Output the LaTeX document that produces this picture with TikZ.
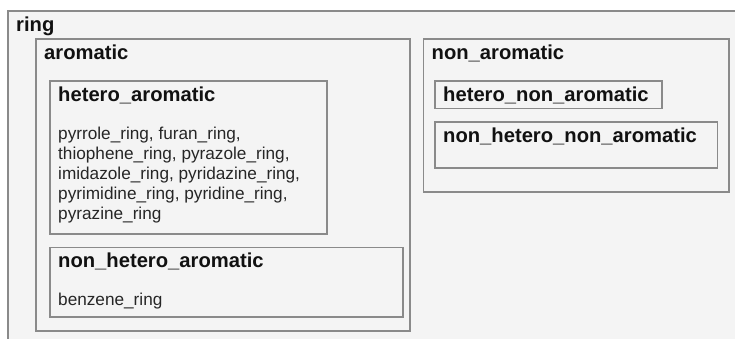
\documentclass[tikz,border=0pt]{standalone}
\usepackage{fontspec}
\setmainfont{Liberation Sans}
\definecolor{boxline}{HTML}{8A8A8A}
\definecolor{boxfill}{HTML}{F4F4F4}
\definecolor{txt}{HTML}{111111}
\definecolor{bodytxt}{HTML}{262626}
\tikzset{
  groupbox/.style={draw=boxline, fill=boxfill, line width=1.3bp},
  grouplabel/.style={anchor=base west, inner sep=0pt, text=txt,
    font=\fontsize{20.2bp}{24bp}\selectfont\bfseries},
  bodytext/.style={anchor=base west, inner sep=0pt, text=bodytxt, align=left,
    font=\fontsize{17.2bp}{20bp}\selectfont},
}
\begin{document}
\begin{tikzpicture}[x=1bp,y=-1bp]
\useasboundingbox (0,0) rectangle (735,338);
\clip (0,0) rectangle (735,338);
\fill[white] (0,0) rectangle (735,338);
% ring
\draw[groupbox] (8,11) rectangle (760,360);
\node[grouplabel] (ring) at (16,31) {ring};
% aromatic
\draw[groupbox] (36,39) rectangle (410,331);
\node[grouplabel] (arom) at (44,59) {aromatic};
\draw[groupbox] (50,81) rectangle (327,234);
\node[grouplabel] (hetarom) at (58,101) {hetero\_aromatic};
% multi-line node: base anchor is the baseline of its last line
\node[bodytext] (hetlist) at (58,219) {pyrrole\_ring, furan\_ring,\\
thiophene\_ring, pyrazole\_ring,\\
imidazole\_ring, pyridazine\_ring,\\
pyrimidine\_ring, pyridine\_ring,\\
pyrazine\_ring};
\draw[groupbox] (50,247.5) rectangle (403,317);
\node[grouplabel] (nonhetarom) at (58,267.5) {non\_hetero\_aromatic};
\node[bodytext] (benz) at (58,305) {benzene\_ring};
% non aromatic
\draw[groupbox] (423.5,39) rectangle (729,192);
\node[grouplabel] (nonarom) at (431.5,59) {non\_aromatic};
\draw[groupbox] (435,81) rectangle (662,108.5);
\node[grouplabel] (hetnonarom) at (443,101) {hetero\_non\_aromatic};
\draw[groupbox] (435,122) rectangle (717.5,168);
\node[grouplabel] (nonhetnonarom) at (443,142) {non\_hetero\_non\_aromatic};
\end{tikzpicture}
\end{document}
